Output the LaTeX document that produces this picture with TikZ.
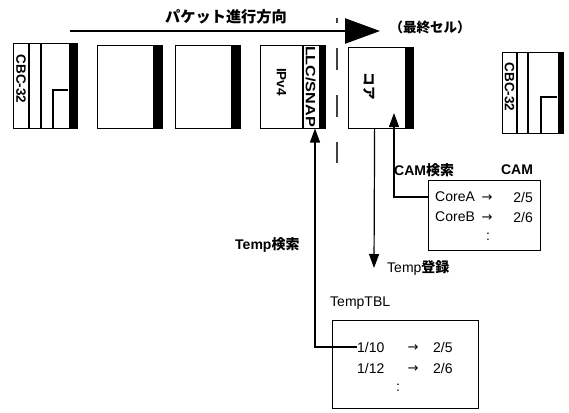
\documentclass[tikz,border=0pt]{standalone}
\usepackage{fontspec}
\setmainfont{Liberation Sans}
\newfontfamily\jp{Noto Sans CJK JP}
\newfontfamily\symf{DejaVu Sans}
\usetikzlibrary{arrows.meta}
\tikzset{
  cell/.style={draw, line width=1.2pt, fill=white, anchor=north west, inner sep=0pt},
  thin line/.style={line width=1.1pt},
  conn/.style={line width=1.2pt, -{Triangle[length=14pt,width=10pt]}},
  lbl/.style={inner sep=0pt, font=\fontsize{14}{14}\selectfont},
  blbl/.style={inner sep=0pt, font=\bfseries\fontsize{14}{14}\selectfont},
  arr/.style={inner sep=0pt, font=\symf\fontsize{13}{13}\selectfont},
  rot/.style={inner sep=0pt, rotate=-90, font=\bfseries\fontsize{13.5}{14}\selectfont},
  tbox/.style={draw, line width=1.2pt, anchor=north west, inner sep=0pt},
}
\begin{document}
\begin{tikzpicture}[x=1pt,y=-1pt]
\useasboundingbox (0,0) rectangle (569,412);

% title and main arrow
\node[lbl, font=\jp\bfseries\fontsize{15.2}{16}\selectfont] (title) at (226,17) {パケット進行方向};
\coordinate (mstart) at (70,31);
\coordinate (mend) at (380,31);
\draw[line width=2.5pt, -{Triangle[length=35pt,width=25pt]}] (mstart) -- (mend);

% dashed separator
\draw[line width=1.1pt, black!75, dash pattern=on 22pt off 25pt, dash phase=17pt] (337,18) -- (337,163);

% cell 1
\node[cell, minimum width=64pt, minimum height=85pt] (c1) at (13,43) {};
\draw[thin line] (29,43) -- (29,128) (41,43) -- (41,128);
\draw[thin line] (53,128) -- (53,90) -- (68,90);
\fill ([xshift=-9pt]c1.north east) rectangle (c1.south east);
\node[rot] (c1t) at (21,79) {CBC-32};

% cell 2
\node[cell, minimum width=65pt, minimum height=83pt] (c2) at (97,45) {};
\fill ([xshift=-10pt]c2.north east) rectangle (c2.south east);

% cell 3
\node[cell, minimum width=65pt, minimum height=83pt] (c3) at (175,45) {};
\fill ([xshift=-10pt]c3.north east) rectangle (c3.south east);

% cell 4
\node[cell, minimum width=65pt, minimum height=83pt] (c4) at (260,45) {};
\draw[thin line] (303,45) -- (303,128);
\fill ([xshift=-7pt]c4.north east) rectangle (c4.south east);
\node[rot] (ipv4) at (281.5,82) {IPv4};
\node[rot] (llc) at (310.5,86.5) {\scalebox{1.2}[1]{LLC/SNAP}};

% core cell
\node[cell, minimum width=65pt, minimum height=81pt] (core) at (348,47) {};
\fill ([xshift=-9pt]core.north east) rectangle (core.south east);
\node[rot, font=\jp\bfseries\fontsize{13.5}{14}\selectfont] (coret) at (369,86) {コア};

% last cell
\node[lbl, font=\jp\bfseries\fontsize{13.5}{14}\selectfont] (lastt) at (430,27) {（最終セル）};
\node[cell, minimum width=61pt, minimum height=81pt] (c5) at (502,52) {};
\draw[thin line] (517,52) -- (517,133) (528,52) -- (528,133);
\draw[thin line] (541,133) -- (541,97) -- (557,97);
\fill ([xshift=-6pt]c5.north east) rectangle (c5.south east);
\node[rot] (c5t) at (509.5,87) {CBC-32};

% CAM table
\node[tbox, minimum width=112pt, minimum height=70pt] (cam) at (428,180) {};
\node[blbl, anchor=west] (camsearch) at (394,170) {CAM{\jp 検索}};
\node[blbl] (camt) at (517,170) {CAM};
\node[lbl, anchor=west] (ca) at (435,197) {CoreA};
\node[arr] (caa) at (487,198) {→};
\node[lbl, anchor=east] (cav) at (533,197) {2/5};
\node[lbl, anchor=west] (cb) at (435,217) {CoreB};
\node[arr] (cba) at (487,218) {→};
\node[lbl, anchor=east] (cbv) at (533,217) {2/6};
\node[lbl] (cdots) at (488,237) {:};

% Temp table
\node[lbl, anchor=west] (ttbl) at (330,303) {TempTBL};
\node[tbox, minimum width=146pt, minimum height=88pt] (tmp) at (332,320) {};
\node[lbl, anchor=west] (t1) at (357,347) {1/10};
\node[arr] (t1a) at (413,348) {→};
\node[lbl, anchor=west] (t1v) at (433,347) {2/5};
\node[lbl, anchor=west] (t2) at (357,368) {1/12};
\node[arr] (t2a) at (413,369) {→};
\node[lbl, anchor=west] (t2v) at (433,368) {2/6};
\node[lbl] (tdots) at (398,388) {:};

% labels
\node[blbl, anchor=west] (tsearch) at (235,245) {Temp{\jp 検索}};
\node[lbl, anchor=west] (treg) at (387,268) {Temp{\jp\bfseries 登録}};

% connectors
\coordinate (tip1) at (315,128.5);
\draw[conn] (t1.west) -| (tip1);
\coordinate (tip2) at (394,113);
\draw[conn] (cam.west |- ca.west) -| (tip2);
\coordinate (dend) at (374,268);
\draw[conn] ([xshift=-6.5pt]core.south) -- (dend);
\end{tikzpicture}
\end{document}
